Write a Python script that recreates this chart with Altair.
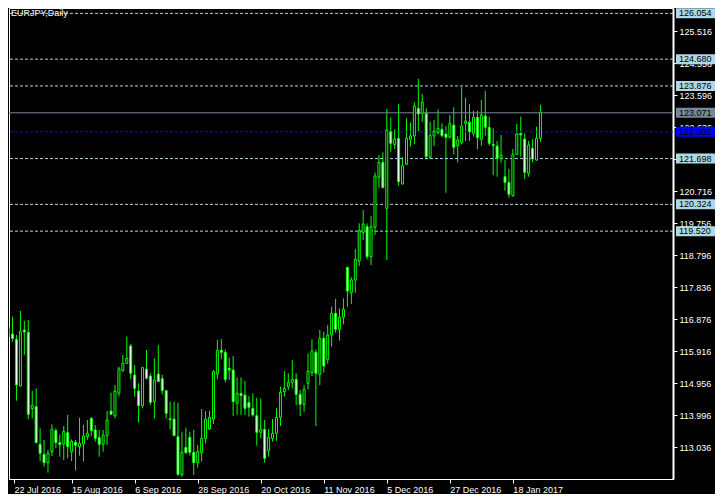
import altair as alt
import pandas as pd

# ---- daily EURJPY candles, one entry per trading day from 22 Jul 2016 ----
opens = [116.635, 116.435, 116.275, 114.875, 116.555, 116.485, 114.195, 114.255, 113.125, 112.825,
         112.575, 112.905, 113.535, 113.175, 113.135, 113.475, 112.905, 113.185, 113.055, 113.135,
         113.355, 113.905, 113.555, 113.325, 113.125, 113.385, 114.125, 113.985, 114.655, 115.335,
         115.555, 116.075, 115.205, 114.725, 114.285, 115.385, 115.175, 114.405, 115.235, 115.095,
         114.735, 113.895, 113.885, 113.355, 112.205, 113.035, 113.335, 112.885, 112.575, 112.875,
         113.305, 113.585, 113.885, 115.235, 115.945, 115.885, 115.405, 115.355, 114.355, 114.655,
         114.605, 114.385, 114.205, 113.985, 113.485, 113.575, 112.935, 113.305, 113.455, 113.935,
         114.705, 114.855, 114.985, 115.075, 114.625, 114.325, 114.955, 115.275, 115.885, 115.225,
         116.305, 115.675, 116.405, 117.055, 116.575, 116.935, 118.435, 117.675, 118.055, 118.625,
         119.475, 119.655, 118.755, 119.635, 121.135, 121.585, 120.205, 122.505, 122.125, 122.305,
         120.935, 121.525, 122.275, 122.375, 123.205, 123.055, 123.055, 121.735, 122.375, 122.475,
         122.575, 122.435, 122.335, 122.705, 122.085, 122.185, 122.755, 122.785, 122.455, 122.935,
         122.275, 122.975, 122.635, 122.125, 122.075, 121.705, 121.155, 120.985, 120.585, 121.825,
         122.455, 122.285, 121.255, 122.005, 121.655, 122.305]
highs = [116.705, 116.955, 116.405, 117.125, 116.825, 116.855, 114.725, 114.805, 113.605, 113.255,
         112.955, 113.725, 113.605, 113.425, 113.675, 114.005, 113.275, 113.255, 113.925, 113.705,
         113.855, 113.935, 113.705, 113.555, 113.555, 114.125, 114.675, 114.905, 115.455, 115.805,
         116.355, 116.135, 115.505, 114.955, 115.455, 115.955, 115.255, 115.705, 116.105, 115.205,
         114.755, 114.405, 114.405, 114.375, 113.505, 113.625, 113.505, 113.555, 113.105, 114.185,
         114.125, 114.125, 115.355, 116.255, 116.285, 115.975, 115.725, 115.775, 115.135, 115.135,
         115.025, 114.575, 114.655, 114.525, 114.505, 113.855, 113.585, 113.885, 114.205, 114.855,
         115.325, 115.255, 115.655, 115.255, 114.755, 114.905, 115.855, 116.275, 115.975, 116.555,
         116.505, 116.705, 117.255, 117.485, 117.205, 117.505, 118.435, 118.135, 118.985, 119.755,
         120.155, 119.755, 119.975, 121.285, 121.805, 121.885, 123.185, 122.935, 122.575, 123.335,
         121.735, 122.905, 122.785, 123.385, 124.085, 123.635, 123.205, 122.805, 122.855, 123.175,
         122.755, 122.675, 123.005, 123.235, 122.375, 123.835, 123.525, 123.335, 123.125, 123.125,
         123.455, 123.725, 122.955, 122.605, 122.225, 122.405, 121.655, 121.385, 121.985, 122.735,
         122.955, 122.455, 122.225, 122.275, 122.655, 123.305]
lows = [116.305, 116.205, 114.435, 114.855, 115.805, 113.875, 113.905, 113.155, 112.625, 112.455,
        112.275, 112.775, 113.005, 112.755, 112.655, 112.705, 112.625, 112.335, 112.785, 112.605,
        113.255, 113.375, 113.205, 112.755, 112.905, 113.105, 114.005, 113.905, 114.555, 115.305,
        115.555, 115.085, 114.555, 113.775, 114.205, 115.075, 114.305, 113.905, 115.005, 114.625,
        113.905, 113.575, 113.405, 112.175, 112.155, 112.835, 112.785, 112.205, 112.425, 112.605,
        113.155, 113.555, 113.735, 115.075, 115.675, 114.985, 115.055, 113.975, 114.005, 114.005,
        114.005, 113.955, 113.955, 113.085, 113.305, 112.575, 112.755, 113.205, 113.235, 113.675,
        114.555, 114.755, 114.805, 114.305, 113.975, 114.105, 114.775, 115.175, 113.675, 114.905,
        115.275, 115.535, 116.055, 116.475, 116.235, 116.725, 117.255, 117.335, 117.675, 118.475,
        119.255, 118.675, 118.505, 119.405, 120.825, 120.825, 118.655, 121.905, 121.985, 120.885,
        120.925, 121.505, 122.055, 122.125, 122.525, 122.805, 121.675, 121.685, 122.075, 122.425,
        122.335, 120.675, 122.305, 121.825, 121.585, 122.125, 122.225, 122.225, 122.355, 121.985,
        122.085, 122.385, 122.085, 121.205, 121.155, 121.575, 120.735, 120.525, 120.555, 121.825,
        121.755, 121.085, 121.155, 121.585, 121.635, 122.205]
closes = [116.355, 116.305, 114.905, 116.505, 116.495, 114.025, 114.295, 113.175, 112.855, 112.575,
          112.855, 113.575, 113.175, 113.115, 113.515, 113.055, 113.215, 113.095, 113.155, 113.375,
          113.455, 113.535, 113.305, 113.125, 113.405, 113.855, 114.025, 114.725, 115.385, 115.555,
          115.705, 115.255, 114.805, 114.285, 115.425, 115.105, 114.385, 115.055, 115.005, 114.735,
          114.055, 113.865, 113.385, 112.225, 112.885, 112.875, 112.885, 112.575, 112.905, 113.305,
          113.875, 113.935, 115.305, 115.945, 115.885, 115.075, 115.355, 114.405, 114.655, 114.585,
          114.205, 114.235, 114.005, 113.485, 113.575, 112.705, 113.335, 113.455, 113.935, 114.685,
          114.805, 114.985, 115.075, 114.625, 114.325, 114.775, 115.325, 115.925, 115.255, 116.305,
          115.475, 116.405, 117.055, 116.575, 116.935, 117.175, 117.725, 118.055, 118.675, 119.535,
          119.735, 118.755, 119.655, 121.175, 121.585, 120.825, 122.555, 122.155, 122.285, 121.005,
          121.485, 122.305, 122.375, 123.275, 123.035, 123.385, 121.755, 122.385, 122.525, 122.605,
          122.385, 122.335, 122.755, 122.035, 122.255, 122.675, 122.825, 122.505, 122.935, 122.325,
          123.005, 122.635, 122.155, 122.085, 121.705, 121.805, 120.985, 120.625, 121.825, 122.435,
          122.405, 121.285, 122.105, 121.685, 122.305, 123.071]

# ---- axis ticks ----
tick_labels = ["22 Jul 2016", "15 Aug 2016", "6 Sep 2016", "28 Sep 2016", "20 Oct 2016",
               "11 Nov 2016", "5 Dec 2016", "27 Dec 2016", "18 Jan 2017"]
tick_bars = [0, 16, 32, 48, 64, 80, 96, 112, 128]
price_ticks = [113.036, 113.996, 114.956, 115.916, 116.876, 117.836, 118.796, 119.756,
               120.716, 121.676, 122.636, 123.596, 124.556, 125.516]

# ---- horizontal levels ----
level_values = [126.054, 124.680, 123.876, 121.698, 120.324, 119.520]
pivot_value = [122.502]
bid_value = [123.071]

W, H = 664, 471
FONT = "Liberation Sans"
X_MIN, X_MAX = 1.375, 167.375

df = pd.DataFrame({"bar": list(range(len(opens))), "open": opens, "high": highs,
                   "low": lows, "close": closes})

xs = alt.Scale(domain=[X_MIN, X_MAX], nice=False, zero=False)
ys = alt.Scale(domain=[112.085, 126.215], nice=False, zero=False)

label_list = "[" + ",".join("'" + t + "'" for t in tick_labels) + "]"
x_axis = alt.Axis(orient="bottom", values=[max(b, X_MIN) for b in tick_bars],
                  labelExpr=label_list + "[round(datum.value / 16)]",
                  labelAlign="left", labelBaseline="top", labelPadding=2,
                  labelColor="white", labelFont=FONT, labelFontSize=9,
                  labelFlush=False, labelOverlap=False,
                  tickColor="white", tickSize=4, domainColor="white", domainWidth=1,
                  grid=False, title=None)
y_axis = alt.Axis(orient="right", values=price_ticks, format=".3f",
                  labelColor="white", labelFont=FONT, labelFontSize=9, labelPadding=2,
                  labelOverlap=False, labelBound=False, tickColor="white", tickSize=4,
                  domainColor="white", domainWidth=2, grid=False, title=None)


def X(field):
    return alt.X(field, scale=xs, axis=x_axis)


def Y(field):
    return alt.Y(field, scale=ys, axis=y_axis)


base = alt.Chart(df)
wicks = base.mark_rule(color="#00ff00", strokeWidth=1, clip=True).encode(
    x=X("bar:Q"), y=Y("low:Q"), y2="high:Q",
)
bodies = base.mark_bar(width=2, stroke="#00ff00", strokeWidth=1, clip=True).encode(
    x=X("bar:Q"), y=Y("open:Q"), y2="close:Q",
    fill=alt.condition("datum.close >= datum.open", alt.value("#000000"), alt.value("#ffffff")),
)

lv = pd.DataFrame({"value": level_values})
pv = pd.DataFrame({"value": pivot_value})
bv = pd.DataFrame({"value": bid_value})

level_lines = alt.Chart(lv).mark_rule(color="#add8e6", strokeDash=[3, 2], strokeWidth=1).encode(
    y=Y("value:Q"))
pivot_line = alt.Chart(pv).mark_rule(color="#0000ff", strokeDash=[3, 2], strokeWidth=1).encode(
    y=Y("value:Q"))
bid_line = alt.Chart(bv).mark_rule(color="#778899", strokeWidth=1).encode(
    y=Y("value:Q"))


def boxes(data, fill, text_color):
    box = alt.Chart(data).transform_calculate(
        top="datum.value + 0.15", bot="datum.value - 0.15"
    ).mark_rect(color=fill).encode(
        x=alt.value(W + 3), x2=alt.value(W + 42),
        y=Y("top:Q"), y2="bot:Q")
    txt = alt.Chart(data).mark_text(align="left", baseline="middle", font=FONT,
                                    fontSize=9, color=text_color).encode(
        x=alt.value(W + 6), y=Y("value:Q"),
        text=alt.Text("value:Q", format=".3f"))
    return box + txt


title = alt.Chart(pd.DataFrame({"t": ["EURJPY,Daily"]})).mark_text(
    align="left", baseline="top", font=FONT, fontSize=9, color="white").encode(
    x=alt.value(2), y=alt.value(1), text="t:N")

chart = alt.layer(
    wicks, level_lines, pivot_line, bid_line, bodies,
    boxes(lv, "#add8e6", "#000000"), boxes(bv, "#778899", "#000000"),
    boxes(pv, "#0000ff", "#000000"), title,
).properties(
    width=W, height=H, padding=0, background="#000000"
).configure_view(
    stroke="white", strokeWidth=1
).configure_axis(
    labelOverlap=False
)

chart.save("out.html", embed_options={"renderer": "svg", "actions": False})
